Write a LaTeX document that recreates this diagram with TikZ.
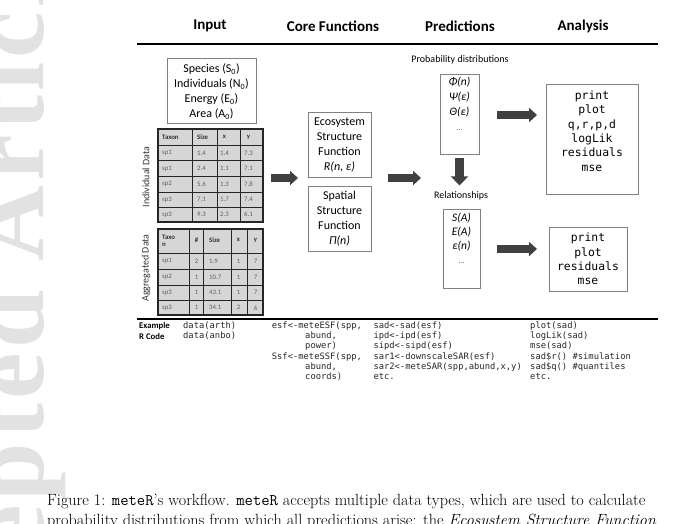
\documentclass[tikz,border=0pt]{standalone}
\usepackage{fontspec}
\newfontfamily\carl{Carlito}
\newfontfamily\wmfont[LetterSpace=4]{Liberation Serif}
\newfontfamily\codefont{DejaVu Sans Mono}
\usetikzlibrary{arrows.meta}
\definecolor{arrowgray}{HTML}{404040}
\definecolor{boxgray}{HTML}{808080}
\definecolor{cellgray}{HTML}{D6D6D6}
\definecolor{wmgray}{HTML}{E2E2E2}
\definecolor{celltext}{HTML}{606060}
\tikzset{
  wm/.style={inner sep=0pt, text=wmgray, font=\wmfont\bfseries\fontsize{105}{105}\selectfont},
  caption/.style={inner sep=0pt, font=\fontsize{16.2}{20}\selectfont},
  header/.style={inner sep=0pt, font=\carl\bfseries\fontsize{15}{18}\selectfont},
  box/.style={draw=boxgray, line width=0.8pt, inner sep=0pt},
  boxtext/.style={inner sep=0pt, align=center, font=\carl\fontsize{12}{15}\selectfont},
  mathtext/.style={inner sep=0pt, align=center, font=\carl\itshape\fontsize{11.5}{15}\selectfont},
  smalllabel/.style={inner sep=0pt, font=\carl\fontsize{10}{12}\selectfont},
  sidelabel/.style={inner sep=0pt, rotate=90, font=\carl\fontsize{10}{12}\selectfont, text=black!80},
  monotext/.style={inner sep=0pt, align=center, font=\codefont\fontsize{11.4}{14.4}\selectfont},
  code/.style={inner sep=0pt, anchor=base west, font=\codefont\fontsize{8.8}{10}\selectfont, text=black!85},
  codehead/.style={inner sep=0pt, anchor=base west, font=\carl\bfseries\fontsize{8.7}{10}\selectfont},
  thead/.style={inner sep=0pt, font=\carl\bfseries\fontsize{6.8}{6.8}\selectfont, text=black!80},
  tdata/.style={inner sep=0pt, font=\carl\fontsize{6.8}{6.8}\selectfont, text=celltext},
  bigarrow/.style={draw=arrowgray, line width=7.5pt, -{Triangle[length=8pt, width=14pt]}},
  downarrow/.style={draw=arrowgray, line width=9pt, -{Triangle[length=9pt, width=17pt]}},
  rule/.style={draw=black, line width=2pt},
  grid/.style={draw=black!85, line width=1pt},
}
\begin{document}
\begin{tikzpicture}[x=1pt,y=-1pt]
\useasboundingbox (0,0) rectangle (680,524);
\clip (0,0) rectangle (680,524);
% watermark
\node[wm, rotate=90, anchor=base west] (wmB) at (43,262) {Article};
\node[wm, rotate=90, anchor=base east] (wmA) at (43,290) {Accepted};

% headers
\node[header] (hIn) at (210,26) {Input};
\node[header] (hCore) at (333,26) {Core Functions};
\node[header] (hPred) at (460,26) {Predictions};
\node[header] (hAn) at (583,26) {Analysis};
\coordinate (r1a) at (137,44); \coordinate (r1b) at (658,44);
\draw[rule] (r1a) -- (r1b);
\coordinate (r2a) at (137,319); \coordinate (r2b) at (658,319);
\draw[rule] (r2a) -- (r2b);

% input box
\node[box, minimum width=89pt, minimum height=65pt] (inbox) at (211.5,90.75) {};
\node[boxtext] (intext) at (211.5,91.5) {Species (S\textsubscript{0})\\Individuals (N\textsubscript{0})\\Energy (E\textsubscript{0})\\Area (A\textsubscript{0})};

% individual table
\fill[cellgray] (158,129) rectangle (263,222);
\foreach \yy in {145.5,161,176.5,192,207} {\draw[grid] (158,\yy) -- (263,\yy);}
\foreach \xx in {192,217,240} {\draw[grid] (\xx,129) -- (\xx,222);}
\draw[grid, line width=1.5pt] (158,129) rectangle (263,222);
\node[thead, anchor=west] (i01) at (162,137.3) {Taxon};
\node[thead, anchor=west] (i02) at (197,137.3) {Size};
\node[thead] (i03) at (224.5,137.3) {x};
\node[thead] (i04) at (248.5,137.3) {y};
\foreach \r/\yy/\a/\b/\c/\d in {1/153.25/sp1/1.4/1.4/7.3, 2/168.75/sp1/2.4/1.1/7.1, 3/184.25/sp2/5.6/1.3/7.8, 4/199.5/sp3/7.1/1.7/7.4, 5/214.5/sp3/9.3/2.3/6.1} {
  \node[tdata, anchor=west] (i\r1) at (162,\yy) {\a};
  \node[tdata, anchor=west] (i\r2) at (197,\yy) {\b};
  \node[tdata] (i\r3) at (224.5,\yy) {\c};
  \node[tdata] (i\r4) at (248.5,\yy) {\d};
}
\node[sidelabel] (indlab) at (146,177) {Individual Data};

% aggregated table
\fill[cellgray] (158,229) rectangle (263,315);
\foreach \yy in {253,269.5,285,300.5} {\draw[grid] (158,\yy) -- (263,\yy);}
\foreach \xx in {189,203,231,247} {\draw[grid] (\xx,229) -- (\xx,315);}
\draw[grid, line width=1.5pt] (158,229) rectangle (263,315);
\node[thead, anchor=west, align=left, font=\carl\bfseries\fontsize{6.8}{7.5}\selectfont] (a01) at (162,241) {Taxo\\n};
\node[thead] (a02) at (196.5,240) {\#};
\node[thead, anchor=west] (a03) at (209,240) {Size};
\node[thead] (a04) at (238.5,240) {x};
\node[thead] (a05) at (255.5,240) {y};
\foreach \r/\yy/\a/\b/\c/\d/\e in {1/261.25/sp1/2/1.9/1/7, 2/277.25/sp2/1/10.7/1/7, 3/292.75/sp3/1/43.1/1/7, 4/307.75/sp3/1/34.1/2/6} {
  \node[tdata, anchor=west] (a\r1) at (162,\yy) {\a};
  \node[tdata] (a\r2) at (196.5,\yy) {\b};
  \node[tdata, anchor=west] (a\r3) at (209,\yy) {\c};
  \node[tdata] (a\r4) at (238.5,\yy) {\d};
  \node[tdata] (a\r5) at (255.5,\yy) {\e};
}
\node[sidelabel] (agglab) at (146,268) {Aggregated Data};

% core functions
\node[box, minimum width=63pt, minimum height=65pt] (esf) at (339.5,144.5) {};
\node[boxtext] (esftext) at (339.5,144.5) {Ecosystem\\Structure\\Function\\\textit{R(n, ε)}};
\node[box, minimum width=63pt, minimum height=65pt] (ssf) at (339.5,218.5) {};
\node[boxtext] (ssftext) at (339.5,218.5) {Spatial\\Structure\\Function\\\textit{Π(n)}};

% predictions
\node[smalllabel] (problab) at (460,60) {Probability distributions};
\node[box, minimum width=39pt, minimum height=80pt] (prob) at (459.5,114) {};
\node[mathtext, anchor=north] (probtext) at (459.5,77) {Φ(n)\\Ψ(ε)\\Θ(ε)\\{\upshape\color{black!60}\fontsize{8}{15}\selectfont ...}};
\node[smalllabel] (rellab) at (461,196) {Relationships};
\node[box, minimum width=37pt, minimum height=79pt] (rel) at (461.5,248.5) {};
\node[mathtext, anchor=north, font=\carl\itshape\fontsize{11.5}{14}\selectfont] (reltext) at (461.5,213) {S(A)\\E(A)\\ε(n)\\{\upshape\color{black!60}\fontsize{8}{14}\selectfont ...}};

% analysis
\node[box, minimum width=92pt, minimum height=110pt] (an1) at (592,139) {};
\node[monotext] (an1text) at (592,131) {print\\plot\\q,r,p,d\\logLik\\residuals\\mse};
\node[box, minimum width=78pt, minimum height=64pt] (an2) at (588,259) {};
\node[monotext] (an2text) at (588,259) {print\\plot\\residuals\\mse};

% arrows
\coordinate (a1s) at (271,178); \coordinate (a1e) at (298,178);
\draw[bigarrow] (a1s) -- (a1e);
\coordinate (a2s) at (388,178); \coordinate (a2e) at (421,178);
\draw[bigarrow] (a2s) -- (a2e);
\draw[downarrow] (prob.south) ++(0,4) coordinate (dns) -- ++(0,27) coordinate (dne);
\coordinate (a3s) at (497,115); \coordinate (a3e) at (537,115);
\draw[bigarrow] (a3s) -- (a3e);
\coordinate (a4s) at (497,249); \coordinate (a4e) at (537,249);
\draw[bigarrow] (a4s) -- (a4e);

% example code
\node[codehead] (ex1) at (139,328.5) {Example};
\node[codehead] (ex2) at (139,339.7) {R Code};
\node[code] (c11) at (183,328.5) {data(arth)};
\node[code] (c12) at (183,338.7) {data(anbo)};
\node[code] (c21) at (271.7,328.5) {esf<-meteESF(spp,};
\node[code] (c22) at (305,338.7) {abund,};
\node[code] (c23) at (305,348.9) {power)};
\node[code] (c24) at (271.7,359.1) {Ssf<-meteSSF(spp,};
\node[code] (c25) at (305,369.3) {abund,};
\node[code] (c26) at (305,379.5) {coords)};
\node[code] (c31) at (373.3,328.5) {sad<-sad(esf)};
\node[code] (c32) at (373.3,338.7) {ipd<-ipd(esf)};
\node[code] (c33) at (373.3,348.9) {sipd<-sipd(esf)};
\node[code] (c34) at (373.3,359.1) {sar1<-downscaleSAR(esf)};
\node[code] (c35) at (373.3,369.3) {sar2<-meteSAR(spp,abund,x,y)};
\node[code] (c36) at (373.3,379.5) {etc.};
\node[code] (c41) at (530,328.5) {plot(sad)};
\node[code] (c42) at (530,338.7) {logLik(sad)};
\node[code] (c43) at (530,348.9) {mse(sad)};
\node[code] (c44) at (530,359.1) {sad\$r() \#simulation};
\node[code] (c45) at (530,369.3) {sad\$q() \#quantiles};
\node[code] (c46) at (530,379.5) {etc.};

% caption
\node[caption, anchor=base west] (cap1) at (47,505) {Figure 1: \texttt{meteR}'s workflow. \texttt{meteR} accepts multiple data types, which are used to calculate};
\node[caption, anchor=base west] (cap2) at (47,525) {probability distributions from which all predictions arise: the \textit{Ecosystem Structure Function}};
\end{tikzpicture}
\end{document}
